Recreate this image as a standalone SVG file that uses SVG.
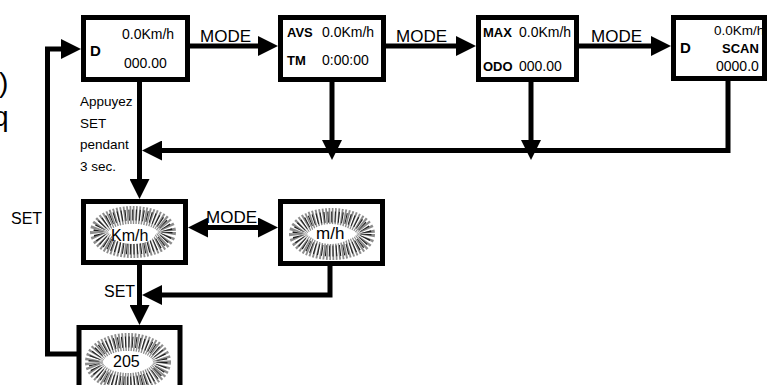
<svg xmlns="http://www.w3.org/2000/svg" width="771" height="385" viewBox="0 0 771 385">
<defs>
<style>
text{font-family:"Liberation Sans",Arial,sans-serif;fill:#000}
.box{fill:#fff;stroke:#000;stroke-width:5}
.v{font-size:14px}
.b{font-size:13px;font-weight:bold}
.bd{font-size:15px;font-weight:bold}
.mode{font-size:17px}
.note{font-size:13.5px}
.lbl{font-size:16px}
.big{font-size:28px}
.ray1{fill:none;stroke:#8c8c8c;stroke-width:18;stroke-dasharray:1.6 1.4}
.ray2{fill:none;stroke:#1e1e1e;stroke-width:11;stroke-dasharray:1 2.6}
.hole{fill:#fff;stroke:none}
.conn path{fill:none;stroke:#000;stroke-width:5;stroke-linejoin:miter}
.arr{marker-end:url(#ah)}
</style>
<marker id="ah" markerUnits="userSpaceOnUse" markerWidth="20" markerHeight="20" viewBox="0 0 20 20" refX="12" refY="10" orient="auto-start-reverse">
<path d="M0,0 L20,10 L0,20 z" fill="#000"/>
</marker>
</defs>
<rect width="771" height="385" fill="#fff"/>

<text class="big" x="-1" y="92">)</text>
<text class="big" x="-7" y="126">q</text>

<g id="n1">
<rect class="box" x="83.5" y="17.5" width="104" height="62"/>
<text class="v" x="122" y="39">0.0Km/h</text>
<text class="bd" x="90" y="56">D</text>
<text class="v" x="124" y="68">000.00</text>
</g>
<g id="n2">
<rect class="box" x="280.5" y="17.5" width="103" height="62"/>
<text class="b" x="287" y="37">AVS</text>
<text class="v" x="322" y="37">0.0Km/h</text>
<text class="b" x="287" y="65">TM</text>
<text class="v" x="322" y="65">0:00:00</text>
</g>
<g id="n3">
<rect class="box" x="478.5" y="17.5" width="98" height="62"/>
<text class="b" x="483" y="37">MAX</text>
<text class="v" x="519" y="37">0.0Km/h</text>
<text class="b" x="483" y="71">ODO</text>
<text class="v" x="519" y="71">000.00</text>
</g>
<g id="n4">
<rect class="box" x="673.5" y="17.5" width="91" height="61"/>
<text class="v" x="714" y="35" style="font-size:13.5px">0.0Km/h</text>
<text class="bd" x="680" y="53">D</text>
<text class="b" x="722" y="53">SCAN</text>
<text class="v" x="716" y="71">0000.0</text>
</g>
<g id="n5">
<rect class="box" x="83.5" y="201.5" width="102" height="61"/>
<ellipse class="ray1" cx="133" cy="232" rx="34" ry="17"/>
<ellipse class="ray2" cx="133" cy="232" rx="34" ry="17"/>
<ellipse class="hole" cx="133" cy="234" rx="22" ry="10"/>
<text class="lbl" x="111" y="241">Km/h</text>
</g>
<g id="n6">
<rect class="box" x="280.5" y="201.5" width="102" height="62"/>
<ellipse class="ray1" cx="332" cy="234" rx="34" ry="17"/>
<ellipse class="ray2" cx="332" cy="234" rx="34" ry="17"/>
<ellipse class="hole" cx="331" cy="234" rx="20" ry="10"/>
<text class="lbl" x="316" y="239" style="font-size:17px">m/h</text>
</g>
<g id="n7">
<rect class="box" x="79" y="327.5" width="101" height="70"/>
<ellipse class="ray1" cx="128" cy="362" rx="34" ry="20"/>
<ellipse class="ray2" cx="128" cy="362" rx="34" ry="20"/>
<ellipse class="hole" cx="126" cy="361" rx="20" ry="10"/>
<text class="lbl" x="113" y="367">205</text>
</g>

<g id="connectors" class="conn">
<path class="arr" d="M187,46 H270"/>
<path class="arr" d="M383,46 H468"/>
<path class="arr" d="M576,46 H663"/>
<path class="arr" d="M139.5,80 V191"/>
<path class="arr" d="M728,78 V150.5 H150"/>
<path class="arr" d="M332,80 V152"/>
<path class="arr" d="M531,80 V152"/>
<path d="M196,227.5 H270" style="marker-start:url(#ah);marker-end:url(#ah)"/>
<path class="arr" d="M330,264 V295 H150"/>
<path class="arr" d="M139.5,263 V317"/>
<path class="arr" d="M78,354 H47.5 V49 H73"/>
</g>

<g id="labels">
<text class="mode" x="200" y="42">MODE</text>
<text class="mode" x="396" y="42">MODE</text>
<text class="mode" x="591" y="42">MODE</text>
<text class="mode" x="206" y="223">MODE</text>
<text class="note" x="80" y="106">Appuyez</text>
<text class="note" x="80" y="128">SET</text>
<text class="note" x="80" y="149">pendant</text>
<text class="note" x="80" y="171">3 sec.</text>
<text class="lbl" x="11" y="224">SET</text>
<text class="lbl" x="104" y="297">SET</text>
</g>
</svg>
